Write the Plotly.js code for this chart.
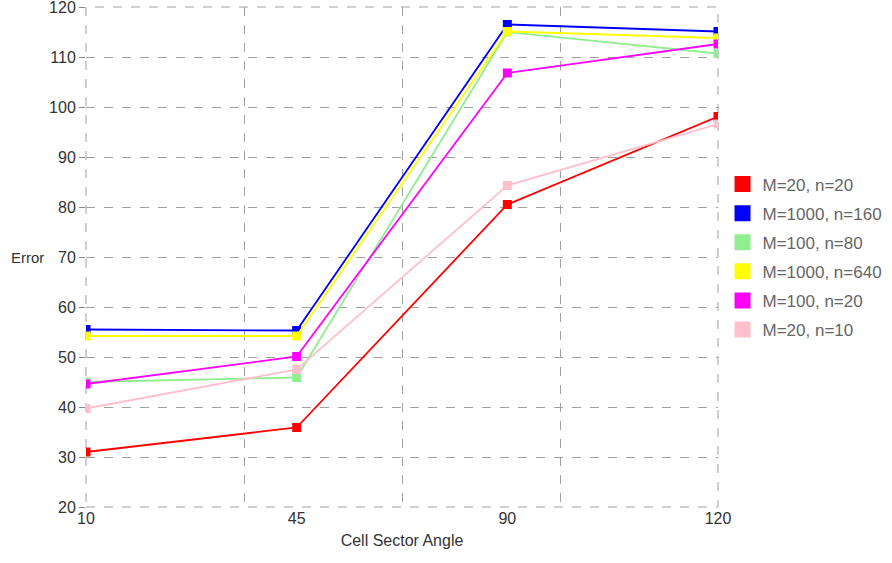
<!DOCTYPE html>
<html>
<head>
<meta charset="utf-8">
<script src="https://cdn.plot.ly/plotly-3.0.1.min.js"></script>
<style>html,body{margin:0;padding:0;background:#fff;}#chart{width:892px;height:563px;}</style>
</head>
<body>
<div id="chart"></div>
<script>
const categories = ["10", "45", "90", "120"];
const seriesNames = ["M=20, n=20", "M=1000, n=160", "M=100, n=80", "M=1000, n=640", "M=100, n=20", "M=20, n=10"];
const seriesColors = ["#ff0000", "#0000ff", "#90ee90", "#ffff00", "#ff00ff", "#ffc0cb"];
const m20n20 = [31.0, 35.9, 80.5, 98.1];
const m1000n160 = [55.5, 55.3, 116.5, 115.1];
const m100n80 = [45.0, 45.9, 115.0, 110.7];
const m1000n640 = [54.2, 54.2, 115.1, 113.8];
const m100n20 = [44.6, 50.1, 106.8, 112.6];
const m20n10 = [39.7, 47.5, 84.3, 96.6];
const seriesValues = [m20n20, m1000n160, m100n80, m1000n640, m100n20, m20n10];

const font = "Liberation Sans, Arial, Helvetica, sans-serif";
const xIdx = categories.map((c, i) => i);
const traces = [];
seriesValues.forEach((vals, k) => {
  traces.push({
    x: xIdx, y: vals, type: "scatter", mode: "lines+markers",
    line: {color: seriesColors[k], width: 1.8},
    marker: {color: seriesColors[k], symbol: "square", size: 9},
    showlegend: false, legendgroup: "g" + k, hoverinfo: "y"
  });
});
seriesValues.forEach((vals, k) => {
  traces.push({
    x: [null], y: [null], type: "scatter", mode: "markers",
    name: seriesNames[k], legendgroup: "g" + k,
    marker: {color: seriesColors[k], symbol: "square", size: 16}
  });
});
// grid-only helper trace on the second x axis
traces.push({x: [0, 4], y: [null, null], xaxis: "x2", type: "scatter", mode: "lines", showlegend: false, hoverinfo: "skip"});

const gridColor = "#a0a0a0";
const layout = {
  width: 892, height: 563,
  margin: {l: 86, r: 174, t: 7, b: 56, autoexpand: false},
  paper_bgcolor: "#fff", plot_bgcolor: "#fff",
  font: {family: font, size: 16, color: "#333"},
  showlegend: true,
  legend: {xref: "container", yref: "paper", x: 0.81, xanchor: "left", y: 0.5, yanchor: "middle",
           font: {family: font, size: 17, color: "#666"},
           itemsizing: "trace", tracegroupgap: 4, bgcolor: "rgba(0,0,0,0)"},
  xaxis: {
    range: [0, 3], tickvals: xIdx, ticktext: categories, showgrid: false, zeroline: false,
    showline: false, ticks: "", tickfont: {family: font, size: 16, color: "#333"},
    title: {text: "Cell Sector Angle", font: {family: font, size: 16, color: "#333"}, standoff: 8}
  },
  xaxis2: {
    overlaying: "x", range: [0, 4], dtick: 1, tick0: 0, showgrid: true, gridcolor: gridColor,
    griddash: "dash", gridwidth: 1, showticklabels: false, zeroline: false, ticks: "", showline: false
  },
  yaxis: {
    range: [20, 120], dtick: 10, tick0: 20, showgrid: true, gridcolor: gridColor, griddash: "dash",
    gridwidth: 1, zeroline: false, showline: false, ticks: "outside", ticklen: 6, tickcolor: "#888",
    ticklabeloverflow: "allow", tickfont: {family: font, size: 16, color: "#333"}
  },
  shapes: [{
    type: "rect", xref: "paper", yref: "paper", x0: 0, x1: 1, y0: 0, y1: 1,
    line: {color: gridColor, width: 1, dash: "dash"}, layer: "below"
  }],
  annotations: [{
    text: "Error", xref: "paper", yref: "paper", x: -0.063, y: 0.5, xanchor: "right", yanchor: "middle",
    showarrow: false, font: {family: font, size: 15, color: "#333"}
  }]
};
Plotly.newPlot("chart", traces, layout, {displayModeBar: false, staticPlot: true});
</script>
</body>
</html>
